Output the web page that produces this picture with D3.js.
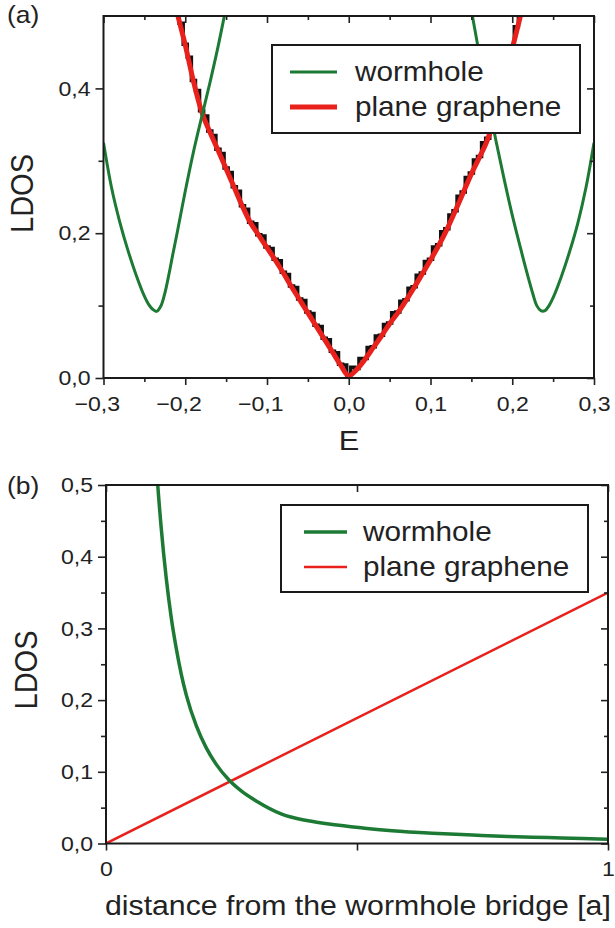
<!DOCTYPE html>
<html>
<head>
<meta charset="utf-8">
<script src="https://cdn.jsdelivr.net/npm/d3@7"></script>
<style>
  body { margin: 0; background: #fff; }
  text { font-family: "Liberation Sans", Arial, sans-serif; fill: #222; }
</style>
</head>
<body>
<div id="chart"></div>
<script>
// ---- panel (a): LDOS vs E ----
var greenLeftE = [-0.30,-0.29,-0.28,-0.27,-0.26,-0.25,-0.245,-0.24,-0.235,-0.23,-0.225,-0.22,-0.215,-0.21,-0.20,-0.19,-0.18,-0.17,-0.16,-0.15,-0.14];
var greenLeftLDOS = [0.325,0.262,0.215,0.176,0.142,0.113,0.102,0.095,0.092,0.099,0.117,0.143,0.172,0.20,0.258,0.312,0.36,0.407,0.457,0.512,0.565];
var greenRightE = [0.14,0.15,0.16,0.17,0.18,0.19,0.20,0.21,0.215,0.22,0.225,0.23,0.235,0.24,0.245,0.25,0.26,0.27,0.28,0.29,0.30];
var greenRightLDOS = [0.565,0.508,0.445,0.385,0.328,0.275,0.225,0.18,0.158,0.137,0.117,0.10,0.093,0.093,0.10,0.111,0.14,0.174,0.213,0.262,0.325];

var redE = [-0.22,-0.21,-0.20,-0.19,-0.18,-0.17,-0.16,-0.15,-0.14,-0.13,-0.12,-0.11,-0.10,-0.09,-0.08,-0.07,-0.06,-0.05,-0.04,-0.03,-0.02,-0.01,0,
            0.01,0.02,0.03,0.04,0.05,0.06,0.07,0.08,0.09,0.10,0.11,0.12,0.13,0.14,0.15,0.16,0.17,0.18,0.19,0.20,0.21,0.22];
var redLDOS = [0.555,0.505,0.46,0.41,0.368,0.34,0.315,0.289,0.263,0.237,0.214,0.197,0.18,0.163,0.145,0.126,0.108,0.09,0.072,0.054,0.036,0.018,0.003,
               0.012,0.026,0.042,0.058,0.075,0.09,0.107,0.125,0.144,0.163,0.183,0.205,0.23,0.256,0.282,0.305,0.33,0.365,0.41,0.455,0.5,0.55];

// noisy numerical data under the red curve, sampled every 0.005 from -0.21
var blackStartE = -0.21, blackStepE = 0.005;
var blackLDOS = [0.506,0.49,0.461,0.443,0.411,0.397,0.369,0.362,0.341,0.335,0.316,0.31,0.29,0.284,0.264,0.258,0.238,0.233,0.215,0.213,
                 0.198,0.196,0.181,0.179,0.164,0.162,0.146,0.143,0.127,0.125,0.109,0.107,0.091,0.089,0.073,0.071,0.055,0.053,0.037,0.035,
                 0.019,0.018,0.004,
                 0.015,0.013,0.027,0.027,0.042,0.043,0.058,0.059,0.074,0.076,0.09,0.091,0.106,0.108,0.124,0.126,0.142,0.145,0.161,0.164,
                 0.181,0.184,0.202,0.206,0.225,0.231,0.251,0.257,0.277,0.283,0.301,0.306,0.325,0.331,0.355,0.366,0.395,0.411,0.44,0.456,0.485,0.501];

var ticksAX = [-0.3,-0.2,-0.1,0,0.1,0.2,0.3];
var minorAX = [-0.25,-0.15,-0.05,0.05,0.15,0.25];
var ticksAY = [0,0.2,0.4];
var minorAY = [0.1,0.3];

// ---- panel (b): LDOS vs distance ----
var greenDist = [0.095,0.10,0.11,0.12,0.13,0.14,0.15,0.16,0.18,0.20,0.22,0.245,0.27,0.30,0.35,0.40,0.46,0.52,0.57,0.65,0.73,0.80,0.88,0.95,1.0];
var greenDistLDOS = [0.585,0.53,0.44,0.37,0.315,0.272,0.236,0.207,0.164,0.133,0.11,0.0885,0.073,0.059,0.041,0.032,0.0258,0.021,0.0178,0.0143,0.0118,0.0098,0.0082,0.0068,0.006];
var redDist = [0,1];
var redDistLDOS = [0,0.35];

var ticksBX = [0,0.5,1];
var tickLabelsBX = ["0","","1"];
var ticksBY = [0,0.1,0.2,0.3,0.4,0.5];
var minorBY = [0.05,0.15,0.25,0.35,0.45];

var legendLabels = ["wormhole","plane graphene"];
var green = "#1d7a34", red = "#e8211c";

var width = 615, height = 928;
var svg = d3.select("#chart").append("svg")
  .attr("width", width)
  .attr("height", height);

var fmt = d3.formatLocale({decimal: ",", thousands: ".", grouping: [3], currency: ["", ""]}).format(".1f");

// the scanned figure is a little wider than tall, so text is stretched
function stretch(sel){
  sel.attr("transform", function(){
    var x = +(this.getAttribute("x") || 0), y = +(this.getAttribute("y") || 0);
    return "translate(" + x + "," + y + ") scale(1.1,1) translate(" + (-x) + "," + (-y) + ")";
  });
}

function drawFrame(g, x, y, o){
  var w = x.range()[1], h = y.range()[0];

  var axes = [
    g.append("g").attr("transform","translate(0,"+h+")").call(d3.axisBottom(x).tickValues(o.xTicks).tickSize(7).tickFormat(o.xFormat)),
    g.append("g").attr("transform","translate(0,"+h+")").call(d3.axisBottom(x).tickValues(o.xMinor).tickSize(4).tickFormat("")),
    g.append("g").call(d3.axisTop(x).tickValues(o.xTicks).tickSize(-7).tickFormat("")),
    g.append("g").call(d3.axisTop(x).tickValues(o.xMinor).tickSize(-4).tickFormat("")),
    g.append("g").call(d3.axisLeft(y).tickValues(o.yTicks).tickSize(8).tickPadding(5).tickFormat(fmt)),
    g.append("g").call(d3.axisLeft(y).tickValues(o.yMinor).tickSize(5).tickFormat("")),
    g.append("g").attr("transform","translate("+w+",0)").call(d3.axisRight(y).tickValues(o.yTicks).tickSize(-7).tickFormat("")),
    g.append("g").attr("transform","translate("+w+",0)").call(d3.axisRight(y).tickValues(o.yMinor).tickSize(-4).tickFormat(""))
  ];
  axes.forEach(function(a){
    a.select(".domain").remove();
    a.selectAll(".tick line").attr("stroke","#222").attr("stroke-width",1.6);
    a.selectAll("text").attr("font-size","21px").attr("font-family",null).attr("fill","#222");
  });
  // the minus sign hangs to the left of the centred number
  axes[0].selectAll("text")
    .attr("y",33)
    .attr("dy",null)
    .attr("dx",function(d){ return d < 0 ? "-0.29em" : null; })
    .call(stretch);
  axes[4].selectAll("text").call(stretch);

  g.append("rect")
    .attr("width", w)
    .attr("height", h)
    .attr("fill","none")
    .attr("stroke","#1a1a1a")
    .attr("stroke-width",2);
}

function drawLegend(g, box, items){
  var lg = g.append("g").attr("transform","translate("+box.x+","+box.y+")");
  lg.append("rect")
    .attr("width", box.w)
    .attr("height", box.h)
    .attr("fill","#fff")
    .attr("stroke","#1a1a1a")
    .attr("stroke-width",2);
  var row = lg.selectAll("g.row")
    .data(items)
    .enter()
    .append("g")
    .attr("class","row")
    .attr("transform",function(d,i){ return "translate(0,"+(box.rowY[i])+")"; });
  row.append("line")
    .attr("x1", box.lineX[0]).attr("x2", box.lineX[1])
    .attr("stroke", function(d){ return d.color; })
    .attr("stroke-width", function(d){ return d.width; });
  row.append("text")
    .attr("x", box.textX)
    .attr("y", 9)
    .attr("font-size","27px")
    .text(function(d){ return d.label; })
    .call(stretch);
}

// ================= panel (a) =================
var gA = svg.append("g").attr("transform","translate(103.5,16)");
var xA = d3.scaleLinear().domain([-0.3,0.3]).range([0,490.5]);
var yA = d3.scaleLinear().domain([0,0.5]).range([362,0]);

svg.append("clipPath").attr("id","clipA")
  .append("rect").attr("width",490.5).attr("height",362);
svg.append("clipPath").attr("id","clipB")
  .append("rect").attr("width",502).attr("height",358.5);

var plotA = gA.append("g").attr("clip-path","url(#clipA)");

var lineA = d3.line()
  .x(function(d){ return xA(d[0]); })
  .y(function(d){ return yA(d[1]); })
  .curve(d3.curveMonotoneX);

var smoothA = d3.line()
  .x(function(d){ return xA(d[0]); })
  .y(function(d){ return yA(d[1]); })
  .curve(d3.curveCatmullRom);

plotA.append("path")
  .datum(blackLDOS.map(function(v,i){ return [blackStartE + i*blackStepE, v]; }))
  .attr("fill","none")
  .attr("stroke","#111")
  .attr("stroke-width",3.5)
  .attr("d", d3.line()
    .x(function(d){ return xA(d[0]); })
    .y(function(d){ return yA(d[1]); })
    .curve(d3.curveStep));

plotA.append("path")
  .datum(redE.map(function(e,i){ return [e, redLDOS[i]]; }))
  .attr("fill","none")
  .attr("stroke",red)
  .attr("stroke-width",5)
  .attr("d", lineA);

[[greenLeftE, greenLeftLDOS],[greenRightE, greenRightLDOS]].forEach(function(s){
  plotA.append("path")
    .datum(s[0].map(function(e,i){ return [e, s[1][i]]; }))
    .attr("fill","none")
    .attr("stroke",green)
    .attr("stroke-width",3)
    .attr("d", smoothA);
});

drawFrame(gA, xA, yA, {xTicks: ticksAX, xMinor: minorAX, yTicks: ticksAY, yMinor: minorAY, xFormat: fmt});

drawLegend(gA, {x:168.5, y:29, w:308, h:88, rowY:[27,62], lineX:[18,65], textX:83},
  [{label:legendLabels[0], color:green, width:3},{label:legendLabels[1], color:red, width:5}]);

svg.append("text").attr("x",7).attr("y",23).attr("font-size","24px").text("(a)").call(stretch);
svg.append("text").attr("x",349).attr("y",450).attr("font-size","28px").attr("text-anchor","middle").text("E").call(stretch);
svg.append("text")
  .attr("transform","translate(33,193.5) scale(1.1,1) rotate(-90)")
  .attr("font-size","29px")
  .attr("text-anchor","middle")
  .text("LDOS");

// ================= panel (b) =================
var gB = svg.append("g").attr("transform","translate(106,485)");
var xB = d3.scaleLinear().domain([0,1]).range([0,502]);
var yB = d3.scaleLinear().domain([0,0.5]).range([358.5,0]);
var plotB = gB.append("g").attr("clip-path","url(#clipB)");

var lineB = d3.line()
  .x(function(d){ return xB(d[0]); })
  .y(function(d){ return yB(d[1]); })
  .curve(d3.curveMonotoneX);

plotB.append("path")
  .datum(redDist.map(function(e,i){ return [e, redDistLDOS[i]]; }))
  .attr("fill","none")
  .attr("stroke",red)
  .attr("stroke-width",2.5)
  .attr("d", lineB);

plotB.append("path")
  .datum(greenDist.map(function(e,i){ return [e, greenDistLDOS[i]]; }))
  .attr("fill","none")
  .attr("stroke",green)
  .attr("stroke-width",3.5)
  .attr("d", lineB);

drawFrame(gB, xB, yB, {xTicks: ticksBX, xMinor: [], yTicks: ticksBY, yMinor: minorBY,
  xFormat: function(d,i){ return tickLabelsBX[i]; }});

drawLegend(gB, {x:175, y:20, w:307, h:87, rowY:[27,62], lineX:[23,66], textX:82},
  [{label:legendLabels[0], color:green, width:3.5},{label:legendLabels[1], color:red, width:2.5}]);

svg.append("text").attr("x",7).attr("y",494).attr("font-size","24px").text("(b)").call(stretch);
svg.append("text").attr("x",105).attr("y",915).attr("font-size","27.5px").text("distance from the wormhole bridge [a]").call(stretch);
svg.append("text")
  .attr("transform","translate(37,670) scale(1.1,1) rotate(-90)")
  .attr("font-size","29px")
  .attr("text-anchor","middle")
  .text("LDOS");
</script>
</body>
</html>
